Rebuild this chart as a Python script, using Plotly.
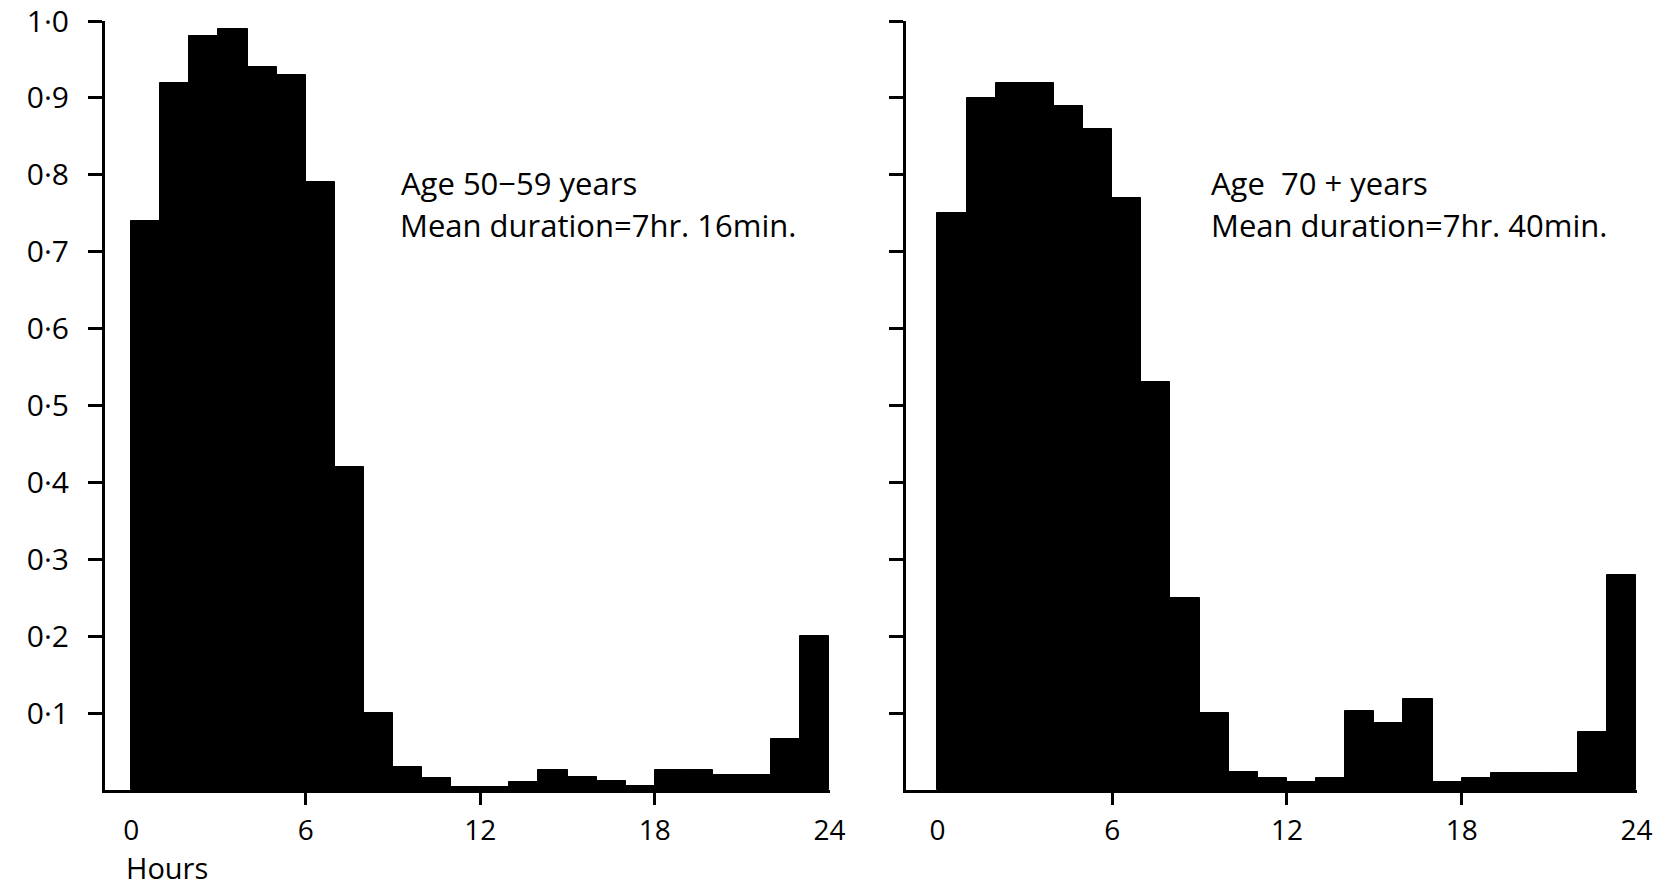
import plotly.graph_objects as go

# ---- data ----
hours = list(range(24))  # start hour of each 1-hour bin
age_50_59 = [0.74, 0.92, 0.98, 0.99, 0.94, 0.93, 0.79, 0.42, 0.10, 0.03,
             0.015, 0.004, 0.004, 0.01, 0.026, 0.017, 0.012, 0.005, 0.026, 0.026,
             0.019, 0.02, 0.066, 0.20]
age_70_plus = [0.75, 0.90, 0.92, 0.92, 0.89, 0.86, 0.77, 0.53, 0.25, 0.10,
               0.023, 0.015, 0.01, 0.015, 0.103, 0.087, 0.118, 0.01, 0.016, 0.022,
               0.022, 0.022, 0.076, 0.28]
y_tickvals = [0.1, 0.2, 0.3, 0.4, 0.5, 0.6, 0.7, 0.8, 0.9, 1.0]
y_ticktext = ["0·1", "0·2", "0·3", "0·4", "0·5", "0·6", "0·7", "0·8", "0·9", "1·0"]
x_tickvals = [0, 6, 12, 18, 24]
x_ticktext = ["0", "6", "12", "18", "24"]
x_minor_ticks = [6, 12, 18]
panel_labels = [("Age 50−59 years", "Mean duration=7hr. 16min."),
                ("Age  70 + years", "Mean duration=7hr. 40min.")]

FONT = "Open Sans"
W, H = 1662, 890

fig = go.Figure()
centers = [h + 0.5 for h in hours]
fig.add_trace(go.Bar(x=centers, y=age_50_59, width=1, xaxis="x", yaxis="y",
                     marker=dict(color="black", line=dict(color="black", width=1)),
                     showlegend=False))
fig.add_trace(go.Bar(x=centers, y=age_70_plus, width=1, xaxis="x2", yaxis="y2",
                     marker=dict(color="black", line=dict(color="black", width=1)),
                     showlegend=False))

ydom = [(H - 790) / H, (H - 21) / H]
xdom1 = [105 / W, 830 / W]
xdom2 = [906 / W, 1637 / W]

def xaxis(dom, anchor, start):
    return dict(domain=dom, range=[start, 24.02], anchor=anchor, automargin=False,
                showline=True, linecolor="black", linewidth=3,
                showgrid=False, zeroline=False,
                tickmode="array", tickvals=x_tickvals, ticktext=x_ticktext,
                ticks="", ticklabelstandoff=13,
                tickfont=dict(family=FONT, size=28, color="black"),
                minor=dict(tickmode="array", tickvals=x_minor_ticks, ticks="outside",
                           ticklen=12, tickwidth=3, tickcolor="black", showgrid=False),
                fixedrange=True)

def yaxis(anchor, labels):
    return dict(domain=ydom, range=[0, 1.0], anchor=anchor, automargin=False,
                showline=True, linecolor="black", linewidth=3,
                showgrid=False, zeroline=False,
                tickmode="array", tickvals=y_tickvals,
                ticktext=y_ticktext if labels else [""] * len(y_tickvals),
                showticklabels=labels, ticklabeloverflow="allow",
                ticks="outside", ticklen=14, tickwidth=3, tickcolor="black",
                ticklabelstandoff=13,
                tickfont=dict(family=FONT, size=30, color="black"),
                fixedrange=True)

fig.update_layout(
    width=W, height=H,
    margin=dict(l=0, r=0, t=0, b=0, autoexpand=False),
    paper_bgcolor="white", plot_bgcolor="white",
    bargap=0,
    xaxis=xaxis(xdom1, "y", -0.9),
    yaxis=yaxis("x", True),
    xaxis2=xaxis(xdom2, "y2", -1.08),
    yaxis2=yaxis("x2", False),
)

def ann(text, xpx, ypx, size, yanchor="middle"):
    fig.add_annotation(text=text, xref="paper", yref="paper",
                       x=xpx / W, y=(H - ypx) / H, xanchor="left", yanchor=yanchor,
                       showarrow=False, font=dict(family=FONT, size=size, color="black"))

ann(panel_labels[0][0], 399, 183, 31)
ann(panel_labels[0][1], 398, 225, 31)
ann(panel_labels[1][0], 1209, 183, 31)
ann(panel_labels[1][1], 1209, 225, 31)
ann("Hours", 124, 889, 29, yanchor="bottom")

fig.write_html("out.html",
               config={"displayModeBar": False},
               post_script="document.body.style.margin='0';"
                           "document.body.style.overflow='hidden';")
